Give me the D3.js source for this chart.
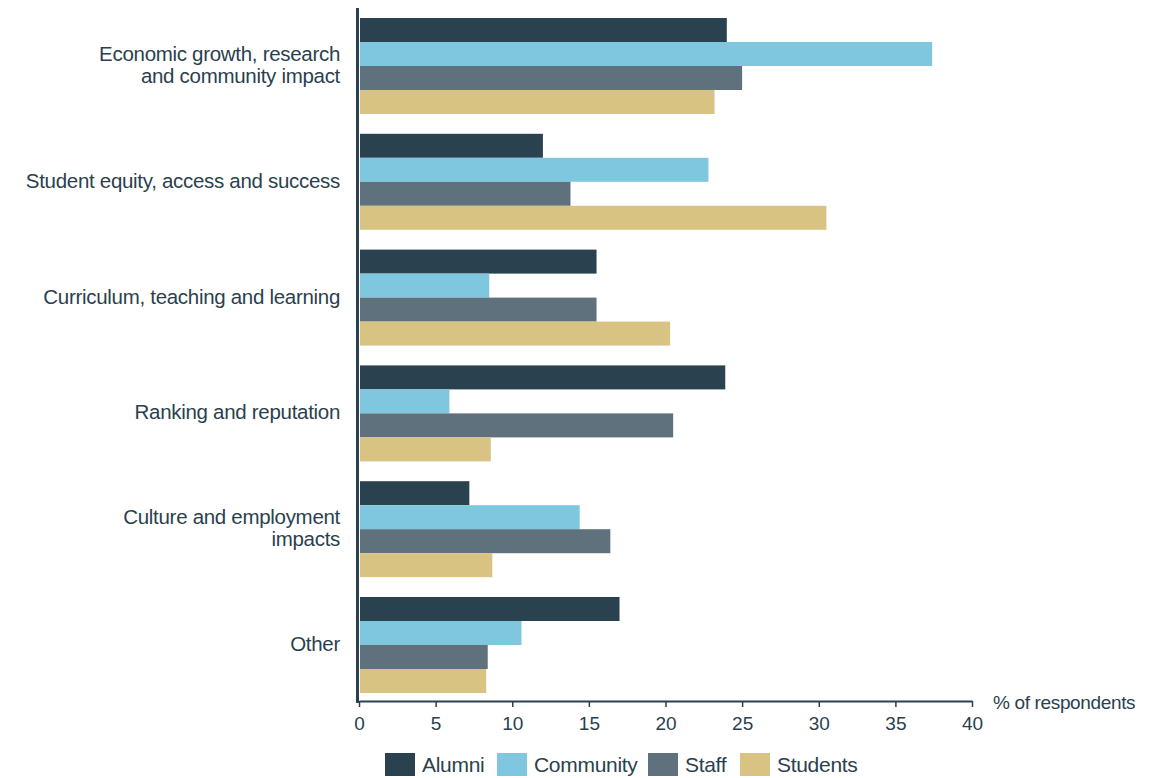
<!DOCTYPE html>
<html><head><meta charset="utf-8">
<script src="https://cdn.jsdelivr.net/npm/d3@7"></script>
<style>body{margin:0;background:#fff}svg text{font-family:"Liberation Sans",Arial,sans-serif;fill:#2b3f4e}</style>
</head><body><svg id="c" width="1173" height="778"></svg>
<script>
const categories = [
  ["Economic growth, research","and community impact"],
  ["Student equity, access and success"],
  ["Curriculum, teaching and learning"],
  ["Ranking and reputation"],
  ["Culture and employment","impacts"],
  ["Other"]
];
const seriesNames = ["Alumni","Community","Staff","Students"];
const alumni    = [24.0, 12.0, 15.5, 23.9, 7.2, 17.0];
const community = [37.4, 22.8, 8.5, 5.9, 14.4, 10.6];
const staff     = [25.0, 13.8, 15.5, 20.5, 16.4, 8.4];
const students  = [23.2, 30.5, 20.3, 8.6, 8.7, 8.3];
const tickValues = [0,5,10,15,20,25,30,35,40];
const colors = ["#2a4150","#7fc6df","#5f717c","#d8c383"];
const seriesVals = [alumni, community, staff, students];

const svg = d3.select("#c");
const x = d3.scaleLinear().domain([0,40]).range([359,972]);
const y0 = d3.scaleBand().domain(d3.range(categories.length)).range([18,693]).paddingInner(0.171).paddingOuter(0);
const y1 = d3.scaleBand().domain(d3.range(seriesNames.length)).range([0,y0.bandwidth()]);

const g = svg.append("g");
categories.forEach((c,i)=>{
  seriesVals.forEach((vals,s)=>{
    g.append("rect")
      .attr("x", x(0)+1).attr("y", y0(i)+y1(s))
      .attr("width", x(vals[i])-x(0)-1).attr("height", y1.bandwidth())
      .attr("fill", colors[s]);
  });
  const t = svg.append("text").attr("text-anchor","end").attr("font-size",20.5).attr("letter-spacing","-0.3");
  const cy = y0(i)+y0.bandwidth()/2;
  const n = c.length;
  c.forEach((line,k)=>{
    t.append("tspan").attr("x",340).attr("y", cy + 6 + (k-(n-1)/2)*22).text(line);
  });
});

// y axis line
svg.append("line").attr("x1",357.5).attr("x2",357.5).attr("y1",8).attr("y2",703).attr("stroke","#2a4150").attr("stroke-width",3);

// x axis
const xa = svg.append("g").attr("transform","translate(0,701)")
  .call(d3.axisBottom(x).tickValues(tickValues).tickSize(6).tickPadding(10).tickSizeOuter(0));
xa.select(".domain").attr("stroke","#2a4150").attr("stroke-width",2);
xa.selectAll(".tick line").attr("stroke","#2a4150").attr("stroke-width",1.5);
xa.selectAll(".tick text").attr("font-size",19).attr("font-family","'Liberation Sans Narrow','Liberation Sans',sans-serif").attr("fill","#2b3f4e");
svg.append("text").attr("x",993).attr("y",709).attr("font-size",19).attr("letter-spacing","-0.35").attr("font-family","'Liberation Sans Narrow','Liberation Sans',sans-serif").text("% of respondents");

// legend
const legX = [385,497,648,740];
seriesNames.forEach((n,s)=>{
  svg.append("rect").attr("x",legX[s]).attr("y",753).attr("width",30).attr("height",23).attr("fill",colors[s]);
  svg.append("text").attr("x",legX[s]+37).attr("y",772).attr("font-size",21).attr("letter-spacing","-0.3")
    .attr("font-family","'Liberation Sans Narrow','Liberation Sans',sans-serif").text(n);
});
</script></body></html>
